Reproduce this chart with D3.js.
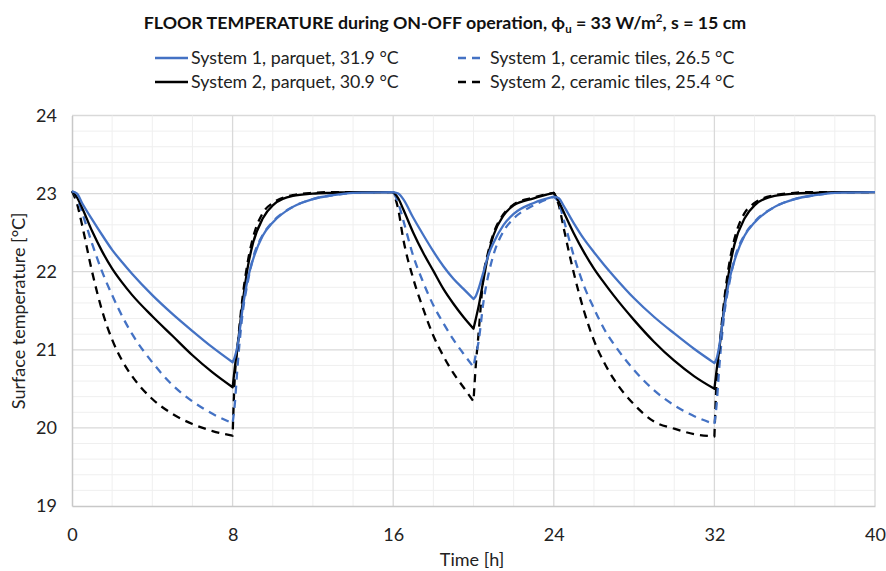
<!DOCTYPE html>
<html>
<head>
<meta charset="utf-8">
<script src="https://cdn.jsdelivr.net/npm/d3@7"></script>
<style>
  html, body { margin: 0; padding: 0; background: #fff; }
  svg { display: block; font-family: Lato, "Open Sans", sans-serif; }
</style>
</head>
<body>
<svg id="chart" width="886" height="571"></svg>
<script>
// Time axis [h] shared by all series
const hours = [
  0, 0.25, 0.5, 1, 1.5, 2, 2.5, 3, 4, 5, 6, 7, 8,
  8.1, 8.25, 8.5, 8.75, 9, 9.5, 10, 11, 12, 13, 14, 16,
  16.25, 16.5, 17, 17.5, 18, 18.5, 19, 19.5, 20,
  20.1, 20.25, 20.5, 20.75, 21, 21.5, 22, 23, 24,
  24.25, 24.5, 25, 25.5, 26, 26.5, 27, 28, 29, 30, 31, 32,
  32.1, 32.25, 32.5, 32.75, 33, 33.5, 34, 35, 36, 37, 38, 40
];

// Surface temperature [°C]
const sys1Parquet = [
  23.03, 23.0, 22.88, 22.67, 22.47, 22.28, 22.12, 21.97, 21.7, 21.46, 21.24, 21.03, 20.84,
  20.9, 21.06, 21.53, 21.9, 22.14, 22.46, 22.63, 22.83, 22.93, 22.98, 23.01, 23.02,
  23.0, 22.93, 22.69, 22.47, 22.26, 22.07, 21.91, 21.78, 21.65,
  21.68, 21.78, 22.0, 22.22, 22.37, 22.6, 22.74, 22.88, 22.96,
  22.94, 22.84, 22.62, 22.42, 22.25, 22.09, 21.94, 21.66, 21.42, 21.21, 21.01, 20.83,
  20.88, 21.06, 21.53, 21.9, 22.14, 22.46, 22.63, 22.83, 22.93, 22.98, 23.01, 23.02
];
const sys2Parquet = [
  23.03, 22.95, 22.82, 22.52, 22.26, 22.04, 21.86, 21.7, 21.43, 21.18, 20.93, 20.71, 20.52,
  20.75, 21.05, 21.6, 22.05, 22.35, 22.68, 22.85, 22.97, 23.0, 23.01, 23.02, 23.02,
  22.94, 22.8, 22.5, 22.24, 22.01, 21.78, 21.59, 21.42, 21.27,
  21.38, 21.55, 21.9, 22.24, 22.47, 22.72, 22.85, 22.94, 23.01,
  22.9, 22.76, 22.49, 22.25, 22.04, 21.86, 21.69, 21.38, 21.1, 20.86, 20.66, 20.5,
  20.72, 21.02, 21.58, 22.04, 22.35, 22.68, 22.85, 22.97, 23.0, 23.01, 23.02, 23.02
];
const sys1Tiles = [
  23.03, 22.94, 22.76, 22.36, 22.0, 21.7, 21.43, 21.2, 20.84, 20.55, 20.34, 20.18, 20.06,
  20.28, 20.8, 21.47, 21.86, 22.16, 22.47, 22.64, 22.83, 22.93, 22.98, 23.01, 23.02,
  22.88, 22.66, 22.2, 21.86, 21.57, 21.34, 21.13, 20.95, 20.78,
  20.92, 21.1, 21.62, 21.97, 22.22, 22.52, 22.68, 22.85, 22.96,
  22.88, 22.66, 22.2, 21.82, 21.53, 21.27, 21.07, 20.74, 20.48, 20.29, 20.15, 20.05,
  20.27, 20.8, 21.47, 21.86, 22.16, 22.47, 22.64, 22.83, 22.93, 22.98, 23.01, 23.02
];
const sys2Tiles = [
  23.03, 22.87, 22.6, 22.0, 21.5, 21.13, 20.86, 20.66, 20.37, 20.18, 20.05, 19.96, 19.9,
  20.6, 21.05, 21.68, 22.12, 22.42, 22.75, 22.88, 22.98, 23.01, 23.02, 23.02, 23.02,
  22.8, 22.42, 21.91, 21.52, 21.18, 20.92, 20.7, 20.52, 20.34,
  20.75, 21.2, 21.95, 22.27, 22.49, 22.74, 22.86, 22.95, 23.01,
  22.85, 22.55, 21.98, 21.5, 21.12, 20.84, 20.62, 20.3, 20.08, 19.99, 19.92, 19.89,
  20.55, 21.02, 21.66, 22.12, 22.42, 22.75, 22.88, 22.98, 23.01, 23.02, 23.02, 23.02
];

// Heating switch times [h], where curves change direction
const switchTimes = [8, 16, 20, 24, 32];

const seriesNames = [
  "System 1, parquet, 31.9 °C",
  "System 1, ceramic tiles, 26.5 °C",
  "System 2, parquet, 30.9 °C",
  "System 2, ceramic tiles, 25.4 °C"
];

const xTicks = [0, 8, 16, 24, 32, 40];
const yTicks = [19, 20, 21, 22, 23, 24];

const svg = d3.select("#chart");
const plotLeft = 72, plotRight = 875, plotTop = 115.5, plotBottom = 506;

const x = d3.scaleLinear().domain([0, 40]).range([plotLeft, plotRight]);
const y = d3.scaleLinear().domain([19, 24]).range([plotBottom, plotTop]);

// Gridlines: minor every 0.2 °C / 2 h, major every 1 °C / 8 h
const grid = svg.append("g");
d3.range(19.2, 24.05, 0.2).forEach(v => {
  const major = Math.abs(v - Math.round(v)) < 1e-6;
  grid.append("line")
    .attr("x1", plotLeft).attr("x2", plotRight)
    .attr("y1", y(v)).attr("y2", y(v))
    .attr("stroke", major ? "#d9d9d9" : "#efefef")
    .attr("stroke-width", major ? 1.3 : 1);
});
d3.range(2, 41, 2).forEach(t => {
  const major = t % 8 === 0;
  grid.append("line")
    .attr("x1", x(t)).attr("x2", x(t))
    .attr("y1", plotTop).attr("y2", plotBottom)
    .attr("stroke", major ? "#d9d9d9" : "#efefef")
    .attr("stroke-width", major ? 1.3 : 1);
});

// Axes
const xAxis = d3.axisBottom(x).tickValues(xTicks).tickFormat(d3.format("d"))
  .tickSize(0).tickPadding(22);
const yAxis = d3.axisLeft(y).tickValues(yTicks).tickFormat(d3.format("d"))
  .tickSize(0).tickPadding(15);

const gx = svg.append("g").attr("transform", `translate(0,${plotBottom})`).call(xAxis);
const gy = svg.append("g").attr("transform", `translate(${plotLeft},0)`).call(yAxis);
[gx, gy].forEach(g => {
  g.select(".domain").attr("stroke", "#c8c8c8").attr("stroke-width", 1.5);
  g.selectAll("text").attr("font-family", "Lato, sans-serif")
    .attr("font-size", 18).attr("fill", "#222");
});

// Axis titles
svg.append("text")
  .attr("x", 472).attr("y", 566)
  .attr("text-anchor", "middle")
  .attr("font-size", 18).attr("fill", "#222")
  .text("Time [h]");
svg.append("text")
  .attr("transform", `translate(25,${(plotTop + plotBottom) / 2}) rotate(-90)`)
  .attr("text-anchor", "middle")
  .attr("font-size", 18).attr("fill", "#222")
  .text("Surface temperature [°C]");

// Title
const title = svg.append("text")
  .attr("x", 445).attr("y", 29)
  .attr("text-anchor", "middle")
  .attr("font-size", 17.8).attr("font-weight", "bold").attr("fill", "#111");
title.append("tspan").text("FLOOR TEMPERATURE during ON-OFF operation, ϕ");
title.append("tspan").attr("font-size", 11.5).attr("dy", 4).text("u");
title.append("tspan").attr("dy", -4).text(" = 33 W/m");
title.append("tspan").attr("font-size", 11.5).attr("dy", -7).text("2");
title.append("tspan").attr("dy", 7).text(", s = 15 cm");

// Series lines, split into cooling/heating phases so corners stay sharp
const series = [
  { values: sys1Parquet, color: "#4472c4", dash: null },
  { values: sys1Tiles,   color: "#4472c4", dash: "8,6" },
  { values: sys2Parquet, color: "#000000", dash: null },
  { values: sys2Tiles,   color: "#000000", dash: "8,6" }
];

const line = d3.line()
  .x(d => x(d[0]))
  .y(d => y(d[1]))
  .curve(d3.curveMonotoneX);

function phasePath(values) {
  const pts = hours.map((h, i) => [h, values[i]]);
  const bounds = [0, ...switchTimes, 40];
  let d = "";
  for (let k = 0; k < bounds.length - 1; k++) {
    const seg = pts.filter(p => p[0] >= bounds[k] && p[0] <= bounds[k + 1]);
    let s = line(seg);
    if (k > 0) s = s.replace(/^M[^LC]*/, "");
    d += s;
  }
  return d;
}

const linesG = svg.append("g");
// Draw order: dashed first, then solid on top
[series[3], series[1], series[2], series[0]].forEach(s => {
  linesG.append("path")
    .attr("d", phasePath(s.values))
    .attr("fill", "none")
    .attr("stroke", s.color)
    .attr("stroke-width", 2.3)
    .attr("stroke-linejoin", "round")
    .attr("stroke-dasharray", s.dash);
});

// Legend
const legendItems = [
  { name: seriesNames[0], s: series[0], col: 0, row: 0 },
  { name: seriesNames[1], s: series[1], col: 1, row: 0 },
  { name: seriesNames[2], s: series[2], col: 0, row: 1 },
  { name: seriesNames[3], s: series[3], col: 1, row: 1 }
];
const legend = svg.append("g");
legendItems.forEach(it => {
  const lx = it.col === 0 ? 155 : 458;
  const ly = it.row === 0 ? 58 : 82;
  legend.append("line")
    .attr("x1", lx).attr("x2", lx + (it.col === 0 ? 33 : 25))
    .attr("y1", ly).attr("y2", ly)
    .attr("stroke", it.s.color).attr("stroke-width", 2.5)
    .attr("stroke-dasharray", it.s.dash ? "8,6" : null);
  legend.append("text")
    .attr("x", it.col === 0 ? 191 : 490).attr("y", ly + 6)
    .attr("font-size", 17.8).attr("fill", "#222")
    .text(it.name);
});
</script>
</body>
</html>
